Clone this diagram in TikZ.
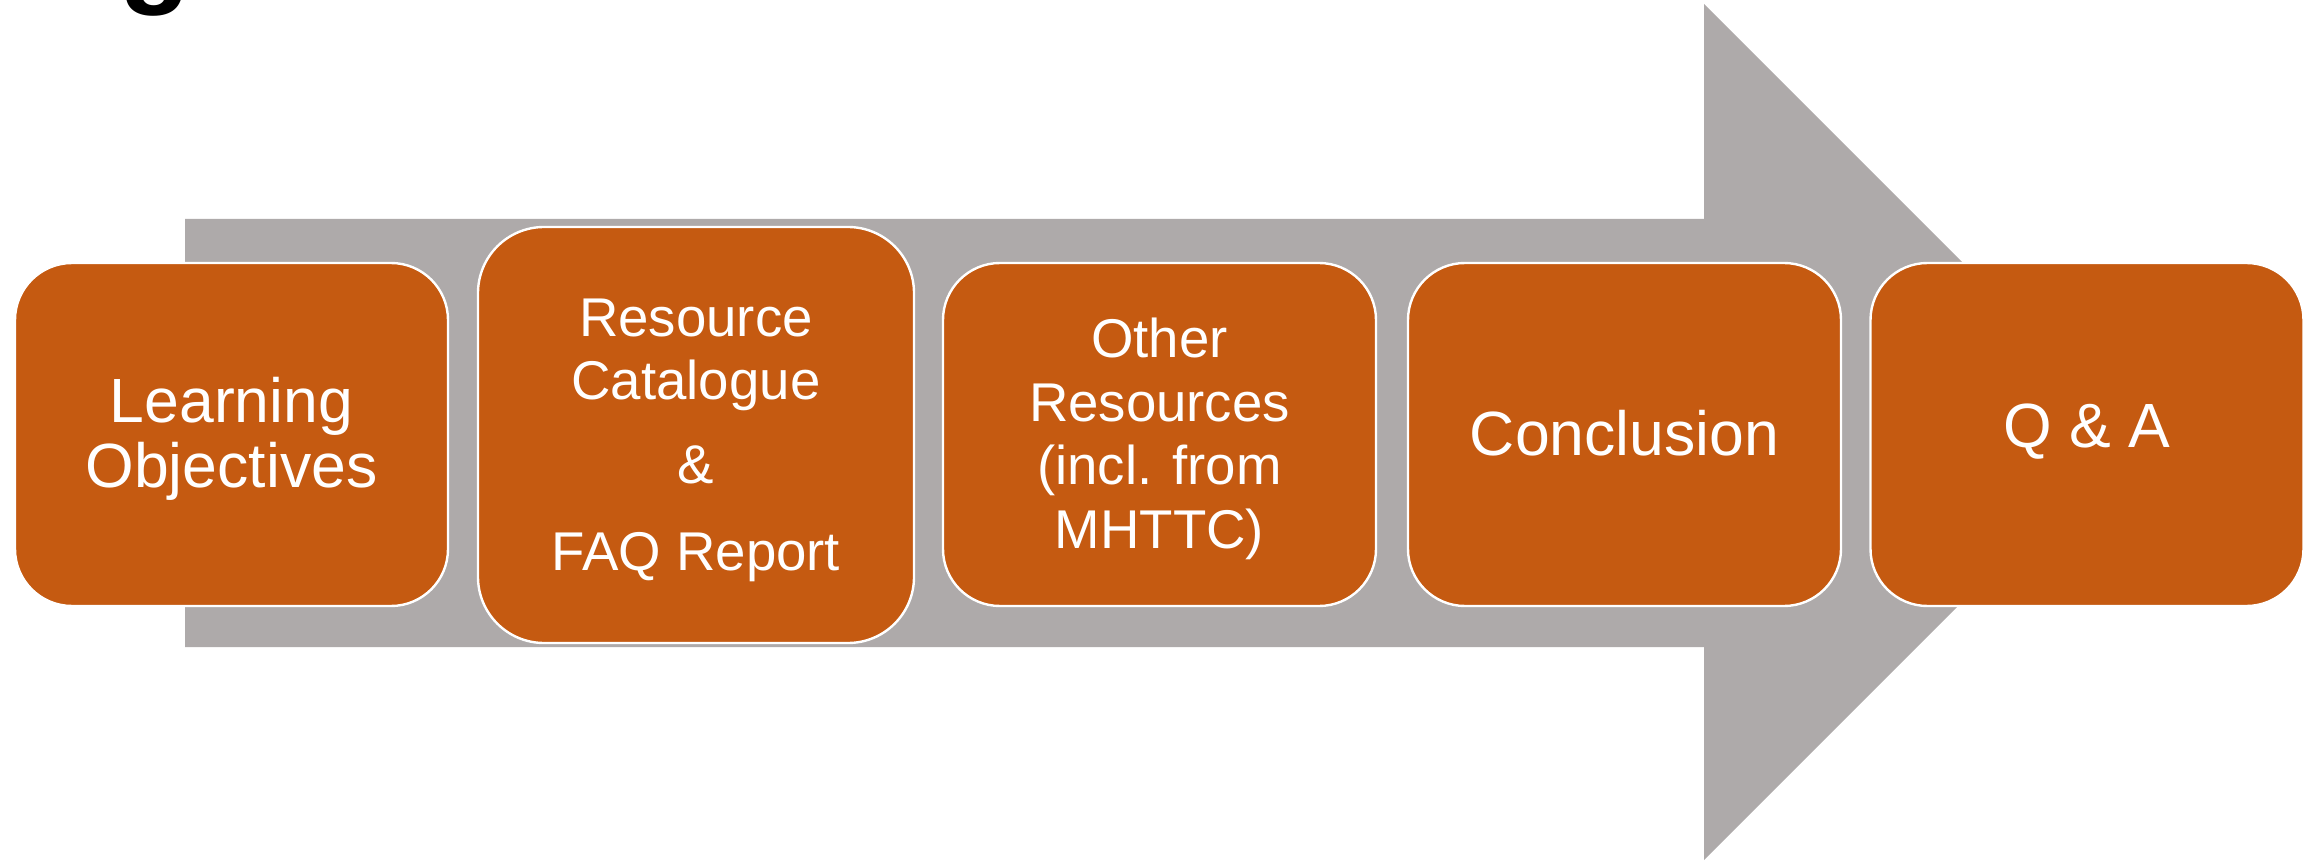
\documentclass[tikz,border=0pt]{standalone}
\usepackage{fontspec}
\setmainfont{Liberation Sans}
\definecolor{boxorange}{HTML}{C55A11}
\definecolor{arrowgray}{HTML}{AEAAAA}
\begin{document}
\begin{tikzpicture}[x=0.5pt,y=-0.5pt,
  stepbox/.style={rectangle, fill=boxorange, draw=white, line width=1.2pt, inner sep=0pt},
  steptext/.style={text=white, align=center, inner sep=0pt, font=\fontsize{31.25pt}{32.5pt}\selectfont},
  smalltext/.style={text=white, align=center, inner sep=0pt, font=\fontsize{27.3pt}{31.75pt}\selectfont}]
\useasboundingbox (0,0) rectangle (2320,866);
% title fragment
\node[anchor=base west, inner sep=0pt, font=\bfseries\fontsize{58.5pt}{60pt}\selectfont] (title) at (119,-8) {g};
% big arrow
\fill[arrowgray] (185,219) -- (1704,219) -- (1704,4) -- (2132,432) -- (1704,860) -- (1704,647) -- (185,647) -- cycle;
% boxes
\node[stepbox, minimum width=216.5pt, minimum height=171.5pt, rounded corners=28.5pt] (b1) at (231.5,434.5) {};
\node[stepbox, minimum width=218pt, minimum height=208pt, rounded corners=33pt] (b2) at (696,435) {};
\node[stepbox, minimum width=216.5pt, minimum height=171.5pt, rounded corners=28.5pt] (b3) at (1159.5,434.5) {};
\node[stepbox, minimum width=216.5pt, minimum height=171.5pt, rounded corners=28.5pt] (b4) at (1624.5,434.5) {};
\node[stepbox, minimum width=216.5pt, minimum height=171.5pt, rounded corners=28.5pt] (b5) at (2087,434.5) {};
% texts
\node[steptext] (t1) at (231.5,438.5) {Learning\\Objectives};
\node[smalltext] (t2) at (696,440.5) {Resource\\Catalogue\\[10.25pt]\&\\[11.75pt]FAQ Report};
\node[smalltext] (t3) at (1159.5,439) {Other\\Resources\\(incl. from\\MHTTC)};
\node[steptext] (t4) at (1624.5,433) {Conclusion};
\node[steptext] (t5) at (2087,432) {Q \& A};
\end{tikzpicture}
\end{document}
